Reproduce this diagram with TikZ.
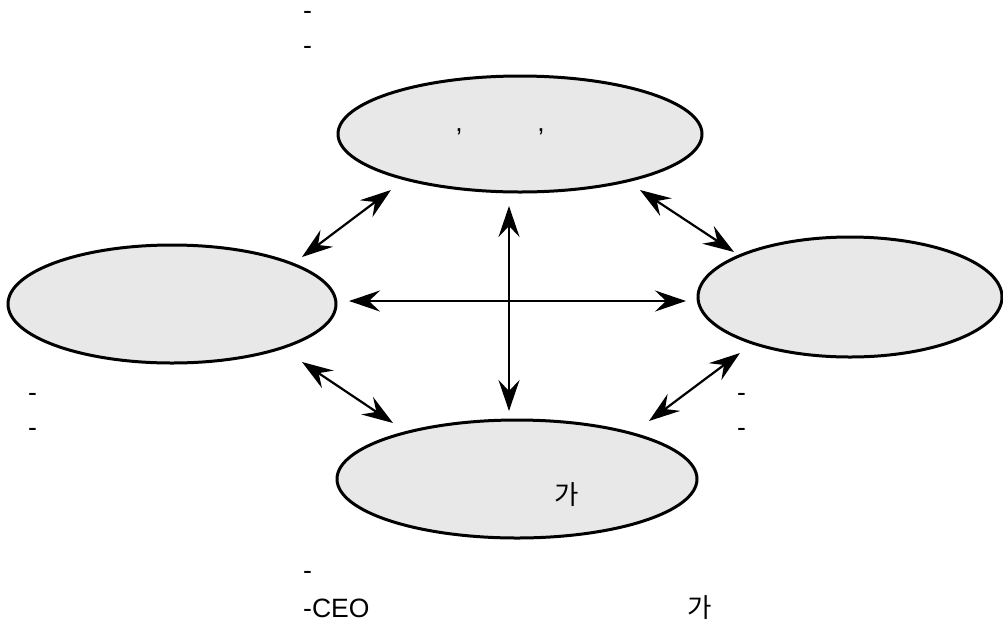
\documentclass[tikz,border=0pt]{standalone}
\usepackage{fontspec}
\setmainfont{Liberation Sans}
\newfontfamily\kr{Noto Sans CJK KR}
\usetikzlibrary{shapes.geometric,arrows.meta}
\tikzset{
  blob/.style={ellipse, draw=black, line width=3pt, fill=gray!18, inner sep=0pt},
  lbl/.style={inner sep=0pt, font=\fontsize{26.5}{30}\selectfont},
  link/.style={line width=2.2pt, {Stealth[length=31pt,width=21pt,inset=11pt]}-{Stealth[length=31pt,width=21pt,inset=11pt]}}
}
\begin{document}
\begin{tikzpicture}[x=1pt,y=-1pt]
\useasboundingbox (0,0) rectangle (1003,622);
\fill[white] (0,0) rectangle (1003,622);
% ellipses
\node[blob, minimum width=364pt, minimum height=116pt] (top) at (520,134) {};
\node[blob, minimum width=328pt, minimum height=118pt] (left) at (172,304) {};
\node[blob, minimum width=304pt, minimum height=120pt] (right) at (850,297) {};
\node[blob, minimum width=360pt, minimum height=118pt] (bottom) at (517,479) {};
% texts
\node[lbl, anchor=base west] (t1) at (303,19) {-};
\node[lbl, anchor=base west] (t2) at (303,54) {-};
\node[lbl, anchor=base] (c1) at (459,131) {,};
\node[lbl, anchor=base] (c2) at (541,131) {,};
\node[lbl, anchor=base west] (l1) at (28,401) {-};
\node[lbl, anchor=base west] (l2) at (28,436) {-};
\node[lbl, anchor=base west] (r1) at (737,401) {-};
\node[lbl, anchor=base west] (r2) at (737,436) {-};
\node[lbl] (b1) at (567,495) {\kr 가};
\node[lbl, anchor=base west] (s1) at (303,579) {-};
\node[lbl, anchor=base west] (s2) at (303,617) {-CEO};
\node[lbl] (s3) at (700,608) {\kr 가};
% arrow endpoints
\coordinate (tlA) at (302,257); \coordinate (tlB) at (391,190);
\coordinate (trA) at (640,190); \coordinate (trB) at (734,252);
\coordinate (hA) at (349,301);  \coordinate (hB) at (686,301);
\coordinate (vA) at (509,206);  \coordinate (vB) at (509,411);
\coordinate (blA) at (302,362); \coordinate (blB) at (393,423);
\coordinate (brA) at (740,353); \coordinate (brB) at (649,421);
\draw[link] (tlA) -- (tlB);
\draw[link] (trA) -- (trB);
\draw[link] (hA) -- (hB);
\draw[link] (vA) -- (vB);
\draw[link] (blA) -- (blB);
\draw[link] (brA) -- (brB);
\end{tikzpicture}
\end{document}
